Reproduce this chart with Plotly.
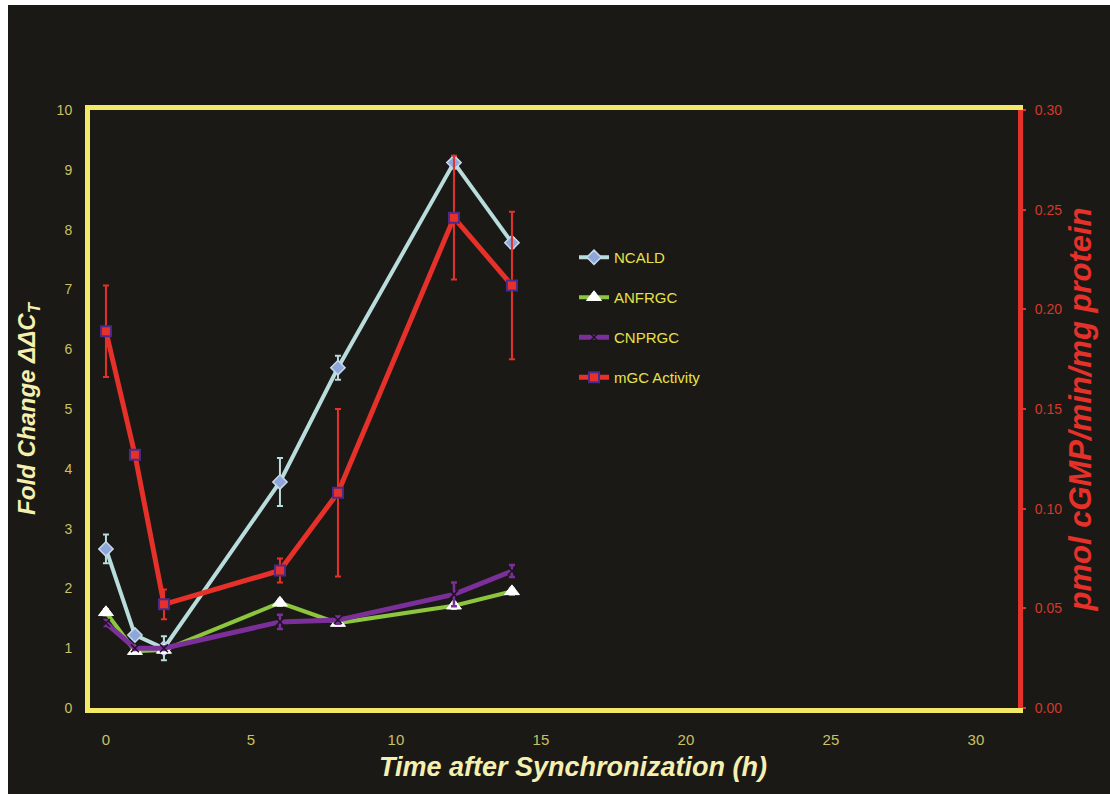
import plotly.graph_objects as go

# Sampling times (h after synchronization)
hours = [0, 1, 2, 6, 8, 12, 14]

# Relative expression (fold change, left axis)
ncald = [2.66, 1.22, 1.00, 3.78, 5.69, 9.12, 7.78]
ncald_err = [0.24, 0.05, 0.20, 0.40, 0.20, 0.10, 0.08]
anfrgc = [1.60, 0.95, 0.97, 1.76, 1.42, 1.71, 1.95]
anfrgc_err = [0.05, 0.03, 0.03, 0.05, 0.04, 0.05, 0.05]
cnprgc = [1.42, 1.00, 1.00, 1.44, 1.47, 1.90, 2.29]
cnprgc_err = [0.05, 0.03, 0.03, 0.12, 0.06, 0.20, 0.10]

# Membrane guanylate cyclase activity (right axis)
mgc = [0.189, 0.127, 0.052, 0.069, 0.108, 0.246, 0.212]
mgc_err = [0.023, 0.0, 0.0075, 0.006, 0.042, 0.031, 0.037]

BG = "#1b1915"
YELLOW = "#f2ea66"
RED = "#e6312a"

fig = go.Figure()

fig.add_trace(go.Scatter(
    x=hours, y=ncald, name="NCALD", mode="lines+markers", legendgroup="a",
    line=dict(color="#b9dcdc", width=4),
    marker=dict(symbol="diamond", size=11, color="#8fa6da",
                line=dict(color="#c6dcea", width=1.5)),
    error_y=dict(type="data", array=ncald_err, color="#b9dcdc", thickness=2, width=3),
))
fig.add_trace(go.Scatter(
    x=hours, y=anfrgc, name="ANFRGC", mode="lines+markers", legendgroup="b",
    line=dict(color="#8cc63e", width=4),
    marker=dict(symbol="triangle-up", size=13, color="white",
                line=dict(color="white", width=1)),
    error_y=dict(type="data", array=anfrgc_err, color="white", thickness=2, width=3),
))
fig.add_trace(go.Scatter(
    x=hours, y=cnprgc, name="CNPRGC", mode="lines+markers", legendgroup="c",
    line=dict(color="#7a2f99", width=5),
    marker=dict(symbol="x-thin", size=8, color="#1e1222",
                line=dict(color="#1e1222", width=1.5)),
    error_y=dict(type="data", array=cnprgc_err, color="#7a2f99", thickness=2.5, width=3),
))
fig.add_trace(go.Scatter(
    x=hours, y=mgc, name="mGC Activity", mode="lines+markers", legendgroup="d",
    yaxis="y2",
    line=dict(color=RED, width=5),
    marker=dict(symbol="square", size=10, color=RED,
                line=dict(color="#4a2a8a", width=2)),
    error_y=dict(type="data", array=mgc_err, color=RED, thickness=2, width=3),
))

# plot area spans x 90..1018 px, y 110..708 px
W, H = 1110, 794
L, R, T, B = 90, 92, 110, 86
pw, ph = W - L - R, H - T - B


def px(v):
    return (v - L) / pw


def py(v):
    return (H - B - v) / ph


shapes = [
    dict(type="rect", xref="paper", yref="paper", x0=px(0), x1=px(8),
         y0=py(H), y1=py(0), fillcolor="white", line=dict(width=0), layer="below"),
    dict(type="rect", xref="paper", yref="paper", x0=px(0), x1=px(W),
         y0=py(5), y1=py(0), fillcolor="white", line=dict(width=0), layer="below"),
]

annotations = [
    dict(text="<b><i>Time after Synchronization (h)</i></b>", xref="paper", yref="paper",
         x=px(573), y=py(767), xanchor="center", yanchor="middle", showarrow=False,
         font=dict(family="Liberation Sans Narrow, Arial Narrow, Arial, sans-serif",
                   size=27, color="#f6f0b0")),
]

fig.update_layout(
    width=W, height=H,
    margin=dict(l=L, r=R, t=T, b=B),
    paper_bgcolor=BG, plot_bgcolor=BG,
    shapes=shapes,
    annotations=annotations,
    showlegend=True,
    legend=dict(x=px(574), y=py(241), xanchor="left", yanchor="top",
                bgcolor="rgba(0,0,0,0)", tracegroupgap=17.5, itemwidth=30,
                font=dict(family="Arial, Liberation Sans, sans-serif", size=15, color="#e9e24a")),
    xaxis=dict(
        range=[-0.55, 31.45], tickvals=[0, 5, 10, 15, 20, 25, 30],
        showgrid=False, zeroline=False,
        showline=True, linecolor=YELLOW, linewidth=5, mirror=True,
        ticks="", ticklabelstandoff=14,
        tickfont=dict(family="Liberation Sans Narrow, Arial Narrow, Arial, sans-serif",
                      size=15, color="#c9c163"),
    ),
    yaxis=dict(
        range=[0, 10], tickvals=list(range(0, 11)),
        showgrid=False, zeroline=False,
        showline=True, linecolor=YELLOW, linewidth=5,
        ticks="", ticklabelstandoff=10,
        tickfont=dict(family="Arial, Liberation Sans, sans-serif", size=14, color="#c9c163"),
        title=dict(text="<b><i>Fold Change ΔΔC<sub>T</sub></i></b>",
                   font=dict(family="Arial, Liberation Sans, sans-serif", size=24, color="#f6f0b0"),
                   standoff=16),
    ),
    yaxis2=dict(
        range=[0, 0.30], tickvals=[0, 0.05, 0.10, 0.15, 0.20, 0.25, 0.30],
        tickformat=".2f", overlaying="y", side="right",
        showgrid=False, zeroline=False,
        showline=True, linecolor=RED, linewidth=5,
        ticks="outside", ticklen=3, tickwidth=2, tickcolor=RED,
        ticklabelstandoff=6,
        tickfont=dict(family="Arial, Liberation Sans, sans-serif", size=14, color="#d2392b"),
        title=dict(text="<b><i>pmol cGMP/min/mg protein</i></b>",
                   font=dict(family="Arial, Liberation Sans, sans-serif", size=31, color=RED),
                   standoff=10),
    ),
)

fig.write_html("out.html")
